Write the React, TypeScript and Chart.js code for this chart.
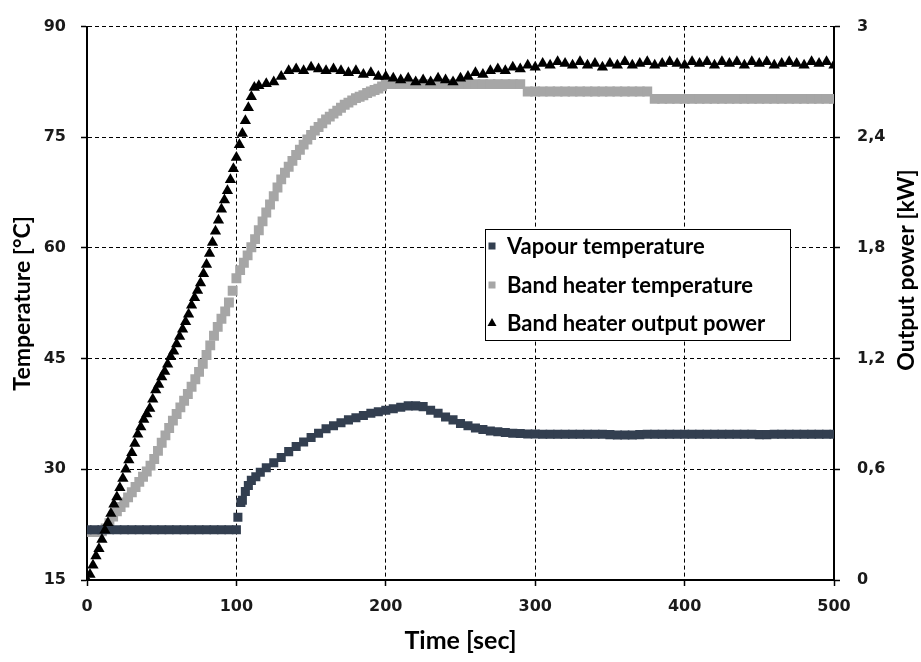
import React, { useEffect, useRef } from "react";
import { Chart, registerables } from "chart.js";

Chart.register(...registerables);

// ---- Tick labels ----
const timeTicks = [0, 100, 200, 300, 400, 500];
const tempTicks = [15, 30, 45, 60, 75, 90];
const powerTicks = [0, 0.6, 1.2, 1.8, 2.4, 3];

// ---- Vapour temperature [°C] ----
const vapourTime = [
  0, 5, 10, 15, 20, 25, 30, 35, 40, 45, 50, 55, 60, 65, 70, 75, 80, 85, 90, 95, 100,
  101, 103, 104, 106, 108, 110, 113, 116, 120, 125, 130, 135, 140, 145, 150, 155, 160,
  165, 170, 175, 180, 185, 190, 195, 200, 205, 210, 215, 220, 225, 230, 235, 240, 245,
  250, 255, 260, 265, 270, 275, 280, 285, 290, 295, 300, 305, 310, 315, 320, 325, 330,
  335, 340, 345, 350, 355, 360, 365, 370, 375, 380, 385, 390, 395, 400, 405, 410, 415,
  420, 425, 430, 435, 440, 445, 450, 455, 460, 465, 470, 475, 480, 485, 490, 495, 500,
];
const vapourTemp = [
  21.8, 21.8, 21.8, 21.8, 21.8, 21.8, 21.8, 21.8, 21.8, 21.8, 21.8, 21.8, 21.8, 21.8, 21.8, 21.8, 21.8, 21.8, 21.8, 21.8, 21.8,
  23.5, 25.5, 25.8, 27.0, 27.8, 28.5, 29.0, 29.6, 30.2, 30.9, 31.6, 32.4, 33.1, 33.7, 34.3, 34.9, 35.5,
  35.9, 36.3, 36.7, 37.0, 37.3, 37.6, 37.8, 38.0, 38.2, 38.4, 38.6, 38.6, 38.5, 38.0, 37.6, 37.1, 36.7,
  36.2, 35.9, 35.6, 35.4, 35.2, 35.1, 35.0, 34.9, 34.85, 34.8, 34.8, 34.75, 34.75, 34.75, 34.75, 34.75, 34.75,
  34.75, 34.75, 34.75, 34.7, 34.65, 34.65, 34.65, 34.7, 34.75, 34.75, 34.75, 34.75, 34.75, 34.75, 34.75, 34.75, 34.75,
  34.75, 34.75, 34.75, 34.75, 34.75, 34.75, 34.7, 34.7, 34.75, 34.75, 34.75, 34.75, 34.75, 34.75, 34.75, 34.75, 34.75,
];

// ---- Band heater temperature [°C] ----
const heaterTime = [
  0, 2.5, 5, 7.5, 10, 12.5, 15, 17.5, 20, 22.5, 25, 27.5, 30, 32.5, 35, 37.5, 40, 42.5, 45, 47.5,
  50, 52.5, 55, 57.5, 60, 62.5, 65, 67.5, 70, 72.5, 75, 77.5, 80, 82.5, 85, 87.5, 90, 92.5, 95, 97.5,
  100, 102.5, 105, 107.5, 110, 112.5, 115, 117.5, 120, 122.5, 125, 127.5, 130, 132.5, 135, 137.5, 140, 142.5, 145, 147.5,
  150, 152.5, 155, 157.5, 160, 162.5, 165, 167.5, 170, 172.5, 175, 177.5, 180, 182.5, 185, 187.5, 190, 192.5, 195, 197.5,
  200, 205, 210, 215, 220, 225, 230, 235, 240, 245, 250, 255, 260, 265, 270, 275, 280, 285, 290,
  295, 300, 305, 310, 315, 320, 325, 330, 335, 340, 345, 350, 355, 360, 365, 370, 375,
  380, 385, 390, 395, 400, 405, 410, 415, 420, 425, 430, 435, 440, 445, 450, 455, 460, 465, 470, 475, 480, 485, 490, 495, 500,
];
const heaterTemp = [
  21.5, 21.5, 21.5, 21.5, 21.6, 22.0, 22.7, 23.6, 24.3, 24.9, 25.5, 26.2, 26.9, 27.6, 28.3, 29.0, 29.7, 30.5, 31.4, 32.5,
  33.6, 34.6, 35.6, 36.6, 37.5, 38.4, 39.3, 40.2, 41.2, 42.2, 43.2, 44.3, 45.5, 46.8, 48.1, 49.3, 50.4, 51.4, 52.6, 54.2,
  55.9, 57.0, 58.0, 59.0, 60.1, 61.2, 62.4, 63.6, 64.8, 65.9, 67.0, 68.2, 69.3, 70.2, 71.0, 71.8, 72.6, 73.3, 74.0, 74.7,
  75.3, 75.9, 76.4, 76.9, 77.4, 77.8, 78.2, 78.6, 79.0, 79.4, 79.7, 80.0, 80.3, 80.5, 80.7, 81.0, 81.2, 81.4, 81.6, 81.9,
  82.2, 82.2, 82.2, 82.2, 82.2, 82.2, 82.2, 82.2, 82.2, 82.2, 82.2, 82.2, 82.2, 82.2, 82.2, 82.2, 82.2, 82.2, 82.2,
  81.2, 81.2, 81.2, 81.2, 81.2, 81.2, 81.2, 81.2, 81.2, 81.2, 81.2, 81.2, 81.2, 81.2, 81.2, 81.2, 81.2,
  80.2, 80.2, 80.2, 80.2, 80.2, 80.2, 80.2, 80.2, 80.2, 80.2, 80.2, 80.2, 80.2, 80.2, 80.2, 80.2, 80.2, 80.2, 80.2, 80.2, 80.2, 80.2, 80.2, 80.2, 80.2,
];

// ---- Band heater output power [kW] ----
const powerTime = [
  0, 2, 4, 6, 8, 10, 12, 14, 16, 18, 20, 22, 24, 26, 28, 30, 32, 34, 36, 38, 40, 42, 44, 46, 48,
  50, 52, 54, 56, 58, 60, 62, 64, 66, 68, 70, 72, 74, 76, 78, 80, 82, 84, 86, 88, 90, 92, 94, 96, 98,
  100, 102, 104, 106, 108, 110, 112,
  115, 120, 125, 130, 135, 140, 145, 150, 155, 160, 165, 170, 175, 180, 185, 190, 195,
  200, 205, 210, 215, 220, 225, 230, 235, 240, 245, 250, 255, 260, 265, 270, 275, 280, 285, 290, 295,
  300, 305, 310, 315, 320, 325, 330, 335, 340, 345, 350, 355, 360, 365, 370, 375, 380, 385, 390, 395,
  400, 405, 410, 415, 420, 425, 430, 435, 440, 445, 450, 455, 460, 465, 470, 475, 480, 485, 490, 495, 500,
];
const powerKW = [
  0.0, 0.03, 0.08, 0.13, 0.17, 0.22, 0.27, 0.31, 0.36, 0.41, 0.45, 0.5, 0.55, 0.6, 0.65, 0.69, 0.74, 0.79, 0.83, 0.87, 0.9, 0.93, 0.98, 1.03, 1.06,
  1.1, 1.13, 1.17, 1.21, 1.24, 1.28, 1.32, 1.36, 1.4, 1.44, 1.49, 1.53, 1.57, 1.61, 1.66, 1.71, 1.77, 1.83, 1.89, 1.95, 2.01, 2.06, 2.11, 2.17, 2.23,
  2.29, 2.36, 2.42, 2.49, 2.56, 2.62, 2.67,
  2.68, 2.69, 2.7, 2.73, 2.76, 2.77, 2.76, 2.78, 2.77, 2.76, 2.77, 2.76, 2.75, 2.76, 2.74, 2.75, 2.73,
  2.73, 2.72, 2.71, 2.72, 2.7, 2.71, 2.7, 2.72, 2.71, 2.7, 2.72, 2.73, 2.75, 2.74, 2.76, 2.77, 2.76, 2.78, 2.77, 2.79,
  2.78, 2.8, 2.79, 2.81, 2.8, 2.79, 2.81, 2.79, 2.8, 2.78, 2.8, 2.79, 2.81, 2.79, 2.8, 2.81, 2.79, 2.8, 2.81, 2.8,
  2.79, 2.81, 2.8, 2.81, 2.79, 2.81, 2.8, 2.81, 2.79, 2.81, 2.8, 2.81, 2.79, 2.8, 2.81, 2.8, 2.79, 2.81, 2.8, 2.81, 2.79,
];

const seriesNames = ["Vapour temperature", "Band heater temperature", "Band heater output power"];
const yTitle = "Temperature [°C]";
const y1Title = "Output power [kW]";
const xTitle = "Time [sec]";

const VAPOUR_COLOR = "#333f50";
const HEATER_COLOR = "#a6a6a6";
const POWER_COLOR = "#000000";

const TICK_FONT = { family: "'DejaVu Sans', Verdana, sans-serif", size: 16, weight: "bold" as const };
const TITLE_FONT = { family: "Lato, sans-serif", size: 23, weight: "bold" as const };
const X_TITLE_FONT = { family: "Lato, sans-serif", size: 25, weight: "bold" as const };

const fmtComma = (v: number) => {
  const r = Math.round(v * 10) / 10;
  return Number.isInteger(r) ? String(r) : r.toFixed(1).replace(".", ",");
};

const overlayPlugin = {
  id: "boxLegend",
  afterDraw(chart: any) {
    const ctx = chart.ctx as CanvasRenderingContext2D;
    ctx.save();
    // right axis title, reading bottom-to-top
    ctx.fillStyle = "#000";
    ctx.font = "bold 23px Lato, sans-serif";
    ctx.textAlign = "center";
    ctx.textBaseline = "middle";
    ctx.translate(907, 270);
    ctx.rotate(-Math.PI / 2);
    ctx.fillText(y1Title, 0, 0);
    ctx.restore();

    ctx.save();
    const x0 = 485, y0 = 229, w = 305, h = 111;
    ctx.fillStyle = "#ffffff";
    ctx.fillRect(x0, y0, w, h);
    ctx.strokeStyle = "#000";
    ctx.lineWidth = 1;
    ctx.strokeRect(x0 + 0.5, y0 + 0.5, w, h);
    const rows = [246, 285, 323];
    const colors = [VAPOUR_COLOR, HEATER_COLOR, POWER_COLOR];
    ctx.font = "bold 22px Lato, sans-serif";
    ctx.textBaseline = "middle";
    ctx.textAlign = "left";
    rows.forEach((yy, i) => {
      ctx.fillStyle = colors[i];
      const mx = 492;
      if (i < 2) {
        ctx.fillRect(mx - 3.5, yy - 3.5, 7, 7);
      } else {
        ctx.beginPath();
        ctx.moveTo(mx, yy - 5);
        ctx.lineTo(mx + 4.5, yy + 3);
        ctx.lineTo(mx - 4.5, yy + 3);
        ctx.closePath();
        ctx.fill();
      }
      ctx.fillStyle = "#000";
      ctx.fillText(seriesNames[i], 507, yy + 1);
    });
    ctx.restore();
  },
};

export default function App() {
  const canvasRef = useRef<HTMLCanvasElement | null>(null);

  useEffect(() => {
    document.body.style.margin = "0";
    const canvas = canvasRef.current;
    if (!canvas) return;

    const toXY = (xs: number[], ys: number[]) => xs.map((x, i) => ({ x, y: ys[i] }));

    const gridCommon = {
      color: "#000",
      lineWidth: 1,
      tickColor: "#000",
      tickLength: 6,
      tickWidth: 1.5,
      tickBorderDash: [],
    };

    const chart = new Chart(canvas, {
      type: "scatter",
      data: {
        datasets: [
          {
            label: seriesNames[0],
            data: toXY(vapourTime, vapourTemp),
            yAxisID: "y",
            pointStyle: "rect",
            pointRadius: 6.4,
            backgroundColor: VAPOUR_COLOR,
            borderColor: VAPOUR_COLOR,
            borderWidth: 0,
            showLine: false,
            order: 1,
          },
          {
            label: seriesNames[1],
            data: toXY(heaterTime, heaterTemp),
            yAxisID: "y",
            pointStyle: "rect",
            pointRadius: 7,
            backgroundColor: HEATER_COLOR,
            borderColor: HEATER_COLOR,
            borderWidth: 0,
            showLine: false,
            order: 2,
          },
          {
            label: seriesNames[2],
            data: toXY(powerTime, powerKW),
            yAxisID: "y1",
            pointStyle: "triangle",
            pointRadius: 6.5,
            backgroundColor: POWER_COLOR,
            borderColor: POWER_COLOR,
            borderWidth: 0,
            showLine: false,
            order: 0,
          },
        ],
      },
      options: {
        animation: false,
        responsive: false,
        maintainAspectRatio: false,
        events: [],
        layout: { padding: { top: 20, left: 0, right: 0, bottom: 0 } },
        plugins: {
          legend: { display: false },
          tooltip: { enabled: false },
        },
        scales: {
          x: {
            type: "linear",
            position: "bottom",
            min: 0,
            max: 500,
            afterBuildTicks: (s: any) => {
              s.ticks = timeTicks.map((v) => ({ value: v }));
            },
            afterFit: (s: any) => {
              s.height = 82;
            },
            ticks: {
              font: TICK_FONT,
              color: "#1a1a1a",
              padding: 11,
              maxRotation: 0,
              autoSkip: false,
              callback: (v: any) => String(v),
            },
            grid: gridCommon,
            border: { color: "#000", width: 2, dash: [4, 3] },
            title: {
              display: true,
              text: xTitle,
              font: X_TITLE_FONT,
              color: "#000",
              padding: { top: 0, bottom: 6 },
            },
          },
          y: {
            type: "linear",
            position: "left",
            min: 15,
            max: 90,
            afterBuildTicks: (s: any) => {
              s.ticks = tempTicks.map((v) => ({ value: v }));
            },
            afterFit: (s: any) => {
              s.width = 87;
            },
            ticks: {
              font: TICK_FONT,
              color: "#1a1a1a",
              padding: 15,
              autoSkip: false,
              callback: (v: any) => String(v),
            },
            grid: gridCommon,
            border: { color: "#000", width: 2, dash: [4, 3] },
            title: {
              display: true,
              text: yTitle,
              font: TITLE_FONT,
              color: "#000",
              padding: { top: 9, bottom: 0 },
            },
          },
          y1: {
            type: "linear",
            position: "right",
            min: 0,
            max: 3,
            afterBuildTicks: (s: any) => {
              s.ticks = powerTicks.map((v) => ({ value: v }));
            },
            afterFit: (s: any) => {
              s.width = 87;
            },
            ticks: {
              font: TICK_FONT,
              color: "#1a1a1a",
              padding: 17,
              autoSkip: false,
              callback: (v: any) => fmtComma(Number(v)),
            },
            grid: { ...gridCommon, drawOnChartArea: false },
            border: { color: "#000", width: 2 },
            title: { display: false },
          },
        },
      },
      plugins: [overlayPlugin],
    } as any);

    return () => chart.destroy();
  }, []);

  return (
    <div style={{ width: 921, height: 662, position: "relative", background: "#fff" }}>
      <canvas ref={canvasRef} width={921} height={662} style={{ width: 921, height: 662, display: "block" }} />
    </div>
  );
}
